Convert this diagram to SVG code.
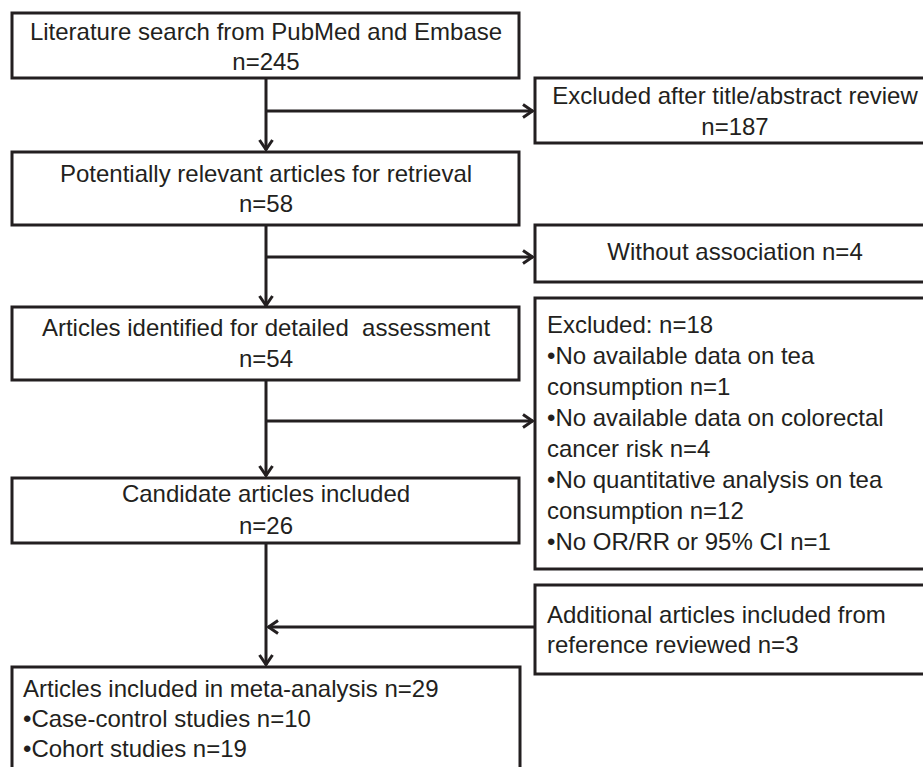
<svg xmlns="http://www.w3.org/2000/svg" width="923" height="767" viewBox="0 0 923 767">
<style>
  .box { fill: #ffffff; stroke: #231f20; stroke-width: 3; }
  .t { font-family: "Liberation Sans", Arial, sans-serif; font-size: 24px; fill: #231f20; white-space: pre; }
  .c { text-anchor: middle; }
  .conn { fill: none; stroke: #231f20; stroke-width: 3; }
</style>
<defs>
  <marker id="arr" viewBox="0 0 12 16" refX="11" refY="8" markerWidth="12" markerHeight="16" markerUnits="userSpaceOnUse" orient="auto">
    <path d="M1,1.5 L10.5,8 L1,14.5" fill="none" stroke="#231f20" stroke-width="3"/>
  </marker>
</defs>
<rect width="923" height="767" fill="#ffffff"/>

<g id="connectors">
  <line class="conn" x1="266" y1="78" x2="266" y2="150" marker-end="url(#arr)"/>
  <line class="conn" x1="266" y1="111" x2="533" y2="111" marker-end="url(#arr)"/>
  <line class="conn" x1="266" y1="225" x2="266" y2="306" marker-end="url(#arr)"/>
  <line class="conn" x1="266" y1="257" x2="533" y2="257" marker-end="url(#arr)"/>
  <line class="conn" x1="266" y1="380" x2="266" y2="476" marker-end="url(#arr)"/>
  <line class="conn" x1="266" y1="421" x2="533" y2="421" marker-end="url(#arr)"/>
  <line class="conn" x1="266" y1="543" x2="266" y2="665" marker-end="url(#arr)"/>
  <line class="conn" x1="535" y1="627" x2="268" y2="627" marker-end="url(#arr)"/>
</g>

<g id="search">
  <rect class="box" x="12" y="13" width="507" height="65"/>
  <text class="t c" x="266" y="40">Literature search from PubMed and Embase</text>
  <text class="t c" x="266" y="70">n=245</text>
</g>

<g id="excluded-title">
  <rect class="box" x="535" y="78" width="420" height="65"/>
  <text class="t c" x="735" y="104">Excluded after title/abstract review</text>
  <text class="t c" x="735" y="135">n=187</text>
</g>

<g id="potentially-relevant">
  <rect class="box" x="12" y="152" width="507" height="73"/>
  <text class="t c" x="266" y="182">Potentially relevant articles for retrieval</text>
  <text class="t c" x="266" y="212">n=58</text>
</g>

<g id="without-association">
  <rect class="box" x="535" y="225" width="420" height="57"/>
  <text class="t c" x="735" y="260">Without association n=4</text>
</g>

<g id="detailed-assessment">
  <rect class="box" x="12" y="307" width="507" height="73"/>
  <text class="t c" x="266" y="336">Articles identified for detailed  assessment</text>
  <text class="t c" x="266" y="367">n=54</text>
</g>

<g id="excluded-18">
  <rect class="box" x="535" y="298" width="420" height="271"/>
  <text class="t" x="547" y="333">Excluded: n=18</text>
  <text class="t" x="547" y="364">•No available data on tea</text>
  <text class="t" x="547" y="395">consumption n=1</text>
  <text class="t" x="547" y="426">•No available data on colorectal</text>
  <text class="t" x="547" y="457">cancer risk n=4</text>
  <text class="t" x="547" y="488">•No quantitative analysis on tea</text>
  <text class="t" x="547" y="519">consumption n=12</text>
  <text class="t" x="547" y="550">•No OR/RR or 95% CI n=1</text>
</g>

<g id="candidate">
  <rect class="box" x="12" y="478" width="507" height="65"/>
  <text class="t c" x="266" y="502">Candidate articles included</text>
  <text class="t c" x="266" y="534">n=26</text>
</g>

<g id="additional">
  <rect class="box" x="535" y="585" width="420" height="89"/>
  <text class="t" x="547" y="623">Additional articles included from</text>
  <text class="t" x="547" y="653">reference reviewed n=3</text>
</g>

<g id="meta-analysis">
  <rect class="box" x="12" y="667" width="508" height="120"/>
  <text class="t" x="23" y="697">Articles included in meta-analysis n=29</text>
  <text class="t" x="23" y="727">•Case-control studies n=10</text>
  <text class="t" x="23" y="757">•Cohort studies n=19</text>
</g>
</svg>
